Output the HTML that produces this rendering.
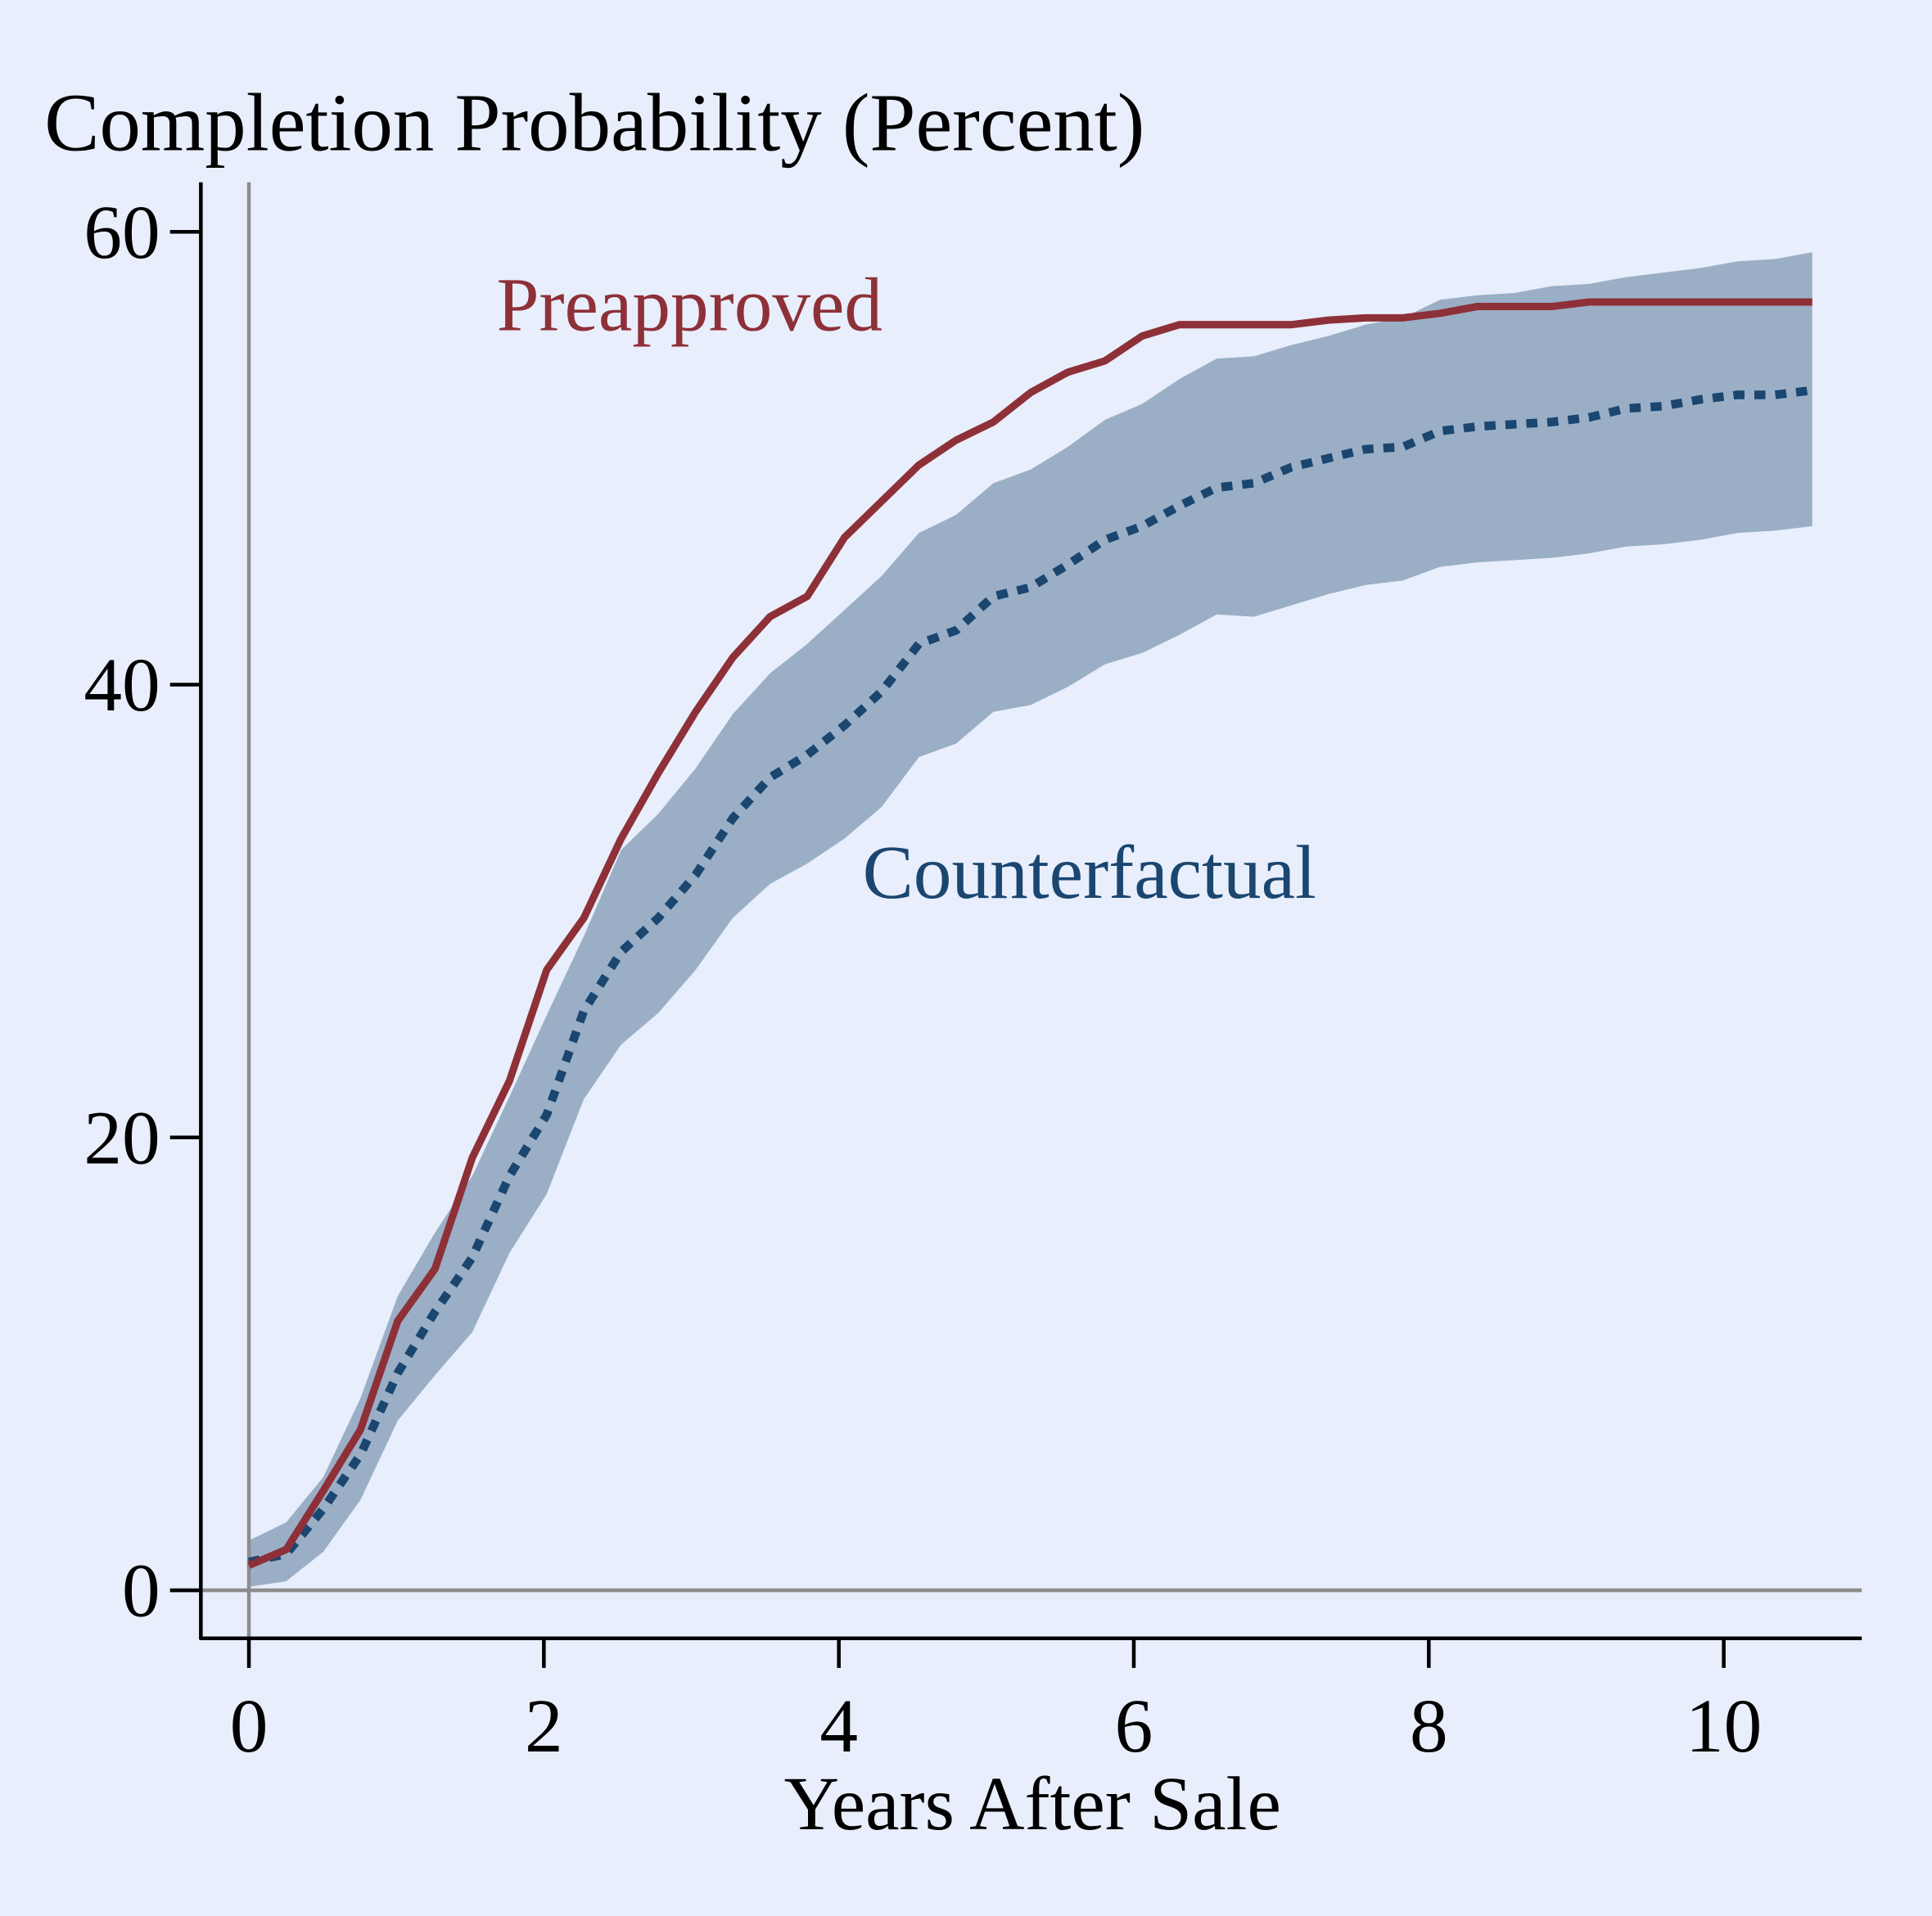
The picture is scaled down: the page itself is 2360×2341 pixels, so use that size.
<!DOCTYPE html>
<html><head><meta charset="utf-8"><style>
html,body{margin:0;padding:0;background:#e8eefb;}
svg{display:block;font-family:"Liberation Serif",serif;}
</style></head><body>
<svg id="chart" width="2360" height="2341" viewBox="0 0 1568 1555.4" xmlns="http://www.w3.org/2000/svg">
<rect x="0" y="0" width="1568" height="1556" fill="#e8eefb"/>
<g id="plot"></g>
</svg>
<script>
const preapproved=[1.1,1.8,4.4,7.1,11.9,14.2,19.1,22.5,27.4,29.7,33.2,36.1,38.8,41.2,43.0,43.9,46.5,48.1,49.7,50.8,51.6,52.9,53.8,54.3,55.4,55.9,55.9,55.9,55.9,56.1,56.2,56.2,56.4,56.7,56.7,56.7,56.9,56.9,56.9,56.9,56.9,56.9,56.9];
const counterfactual=[1.25,1.6,3.6,6.0,9.6,12.3,14.7,18.3,21.0,25.6,28.2,29.7,31.6,34.1,35.9,36.9,38.2,39.7,41.8,42.4,43.9,44.3,45.3,46.4,47.0,47.9,48.7,48.9,49.6,50.0,50.4,50.5,51.2,51.4,51.5,51.6,51.8,52.2,52.3,52.6,52.8,52.8,53.0];
const ciUpper=[2.2,3.0,5.0,8.5,13.0,15.8,18.3,21.8,25.4,28.9,32.7,34.3,36.3,38.7,40.5,41.8,43.3,44.8,46.7,47.5,48.9,49.5,50.5,51.7,52.4,53.5,54.4,54.5,55.0,55.4,55.9,56.2,57.0,57.2,57.3,57.6,57.7,58.0,58.2,58.4,58.7,58.8,59.1];
const ciLower=[0.15,0.4,1.7,4.0,7.5,9.5,11.4,14.9,17.5,21.7,24.1,25.5,27.4,29.7,31.2,32.1,33.2,34.6,36.8,37.4,38.8,39.1,39.9,40.9,41.4,42.2,43.1,43.0,43.5,44.0,44.4,44.6,45.2,45.4,45.5,45.6,45.8,46.1,46.2,46.4,46.7,46.8,47.0];
const quarters=[0,1,2,3,4,5,6,7,8,9,10,11,12,13,14,15,16,17,18,19,20,21,22,23,24,25,26,27,28,29,30,31,32,33,34,35,36,37,38,39,40,41,42];
const xTicks=[0,2,4,6,8,10];
const yTicks=[0,20,40,60];
const yearsPerStep=10.6/42;

const NS="http://www.w3.org/2000/svg";
const g=document.getElementById('plot');
const X=v=>202+v*119.7;
const Y=v=>1291-v*18.38;
const xs=quarters.map(q=>X(q*yearsPerStep));
function el(t,a,p){const e=document.createElementNS(NS,t);for(const k in a)e.setAttribute(k,a[k]);(p||g).appendChild(e);return e;}

let d=xs.map((x,i)=>(i?'L':'M')+x+','+Y(ciUpper[i])).join('');
for(let i=xs.length-1;i>=0;i--)d+='L'+xs[i]+','+Y(ciLower[i]);
const band=el('path',{d:d+'Z',fill:'#9aafc6'});



const vref=el('line',{x1:X(0),x2:X(0),y1:148,y2:1330,stroke:'#8c8c8c','stroke-width':3});


const href=el('line',{x1:162,x2:1511,y1:Y(0),y2:Y(0),stroke:'#8c8c8c','stroke-width':3});



const cf=el('path',{d:xs.map((x,i)=>(i?'L':'M')+x+','+Y(counterfactual[i])).join(''),fill:'none',stroke:'#1a4670','stroke-width':7,'stroke-dasharray':'9,8'});


const pa=el('path',{d:xs.map((x,i)=>(i?'L':'M')+x+','+Y(preapproved[i])).join(''),fill:'none',stroke:'#8e3038','stroke-width':6});



const ya=el('line',{x1:163,x2:163,y1:148,y2:1331,stroke:'#000','stroke-width':3});


const xa=el('line',{x1:162,x2:1511,y1:1330,y2:1330,stroke:'#000','stroke-width':3});


yTicks.forEach(v=>{
  const t=el('line',{x1:138,x2:163,y1:Y(v),y2:Y(v),stroke:'#000','stroke-width':3});
  
  
  const l=el('text',{x:130,y:Y(v)+21,'font-size':62,'text-anchor':'end',fill:'#000'});
  l.textContent=v;
  
  
});
xTicks.forEach(v=>{
  const t=el('line',{x1:X(v),x2:X(v),y1:1330,y2:1354,stroke:'#000','stroke-width':3});
  
  
  const l=el('text',{x:X(v),y:1422,'font-size':62,'text-anchor':'middle',fill:'#000'});
  l.textContent=v;
  
  
});
const xt=el('text',{x:838,y:1485,'font-size':62,'text-anchor':'middle',fill:'#000'});
xt.textContent='Years After Sale';


const yt=el('text',{x:36,y:122,'font-size':67,fill:'#000'});
yt.textContent='Completion Probability (Percent)';


const l1=el('text',{x:403,y:268,'font-size':62,fill:'#8e3038'});
l1.textContent='Preapproved';


const l2=el('text',{x:700,y:729,'font-size':62,fill:'#1a4670'});
l2.textContent='Counterfactual';


</script>
</body></html>
